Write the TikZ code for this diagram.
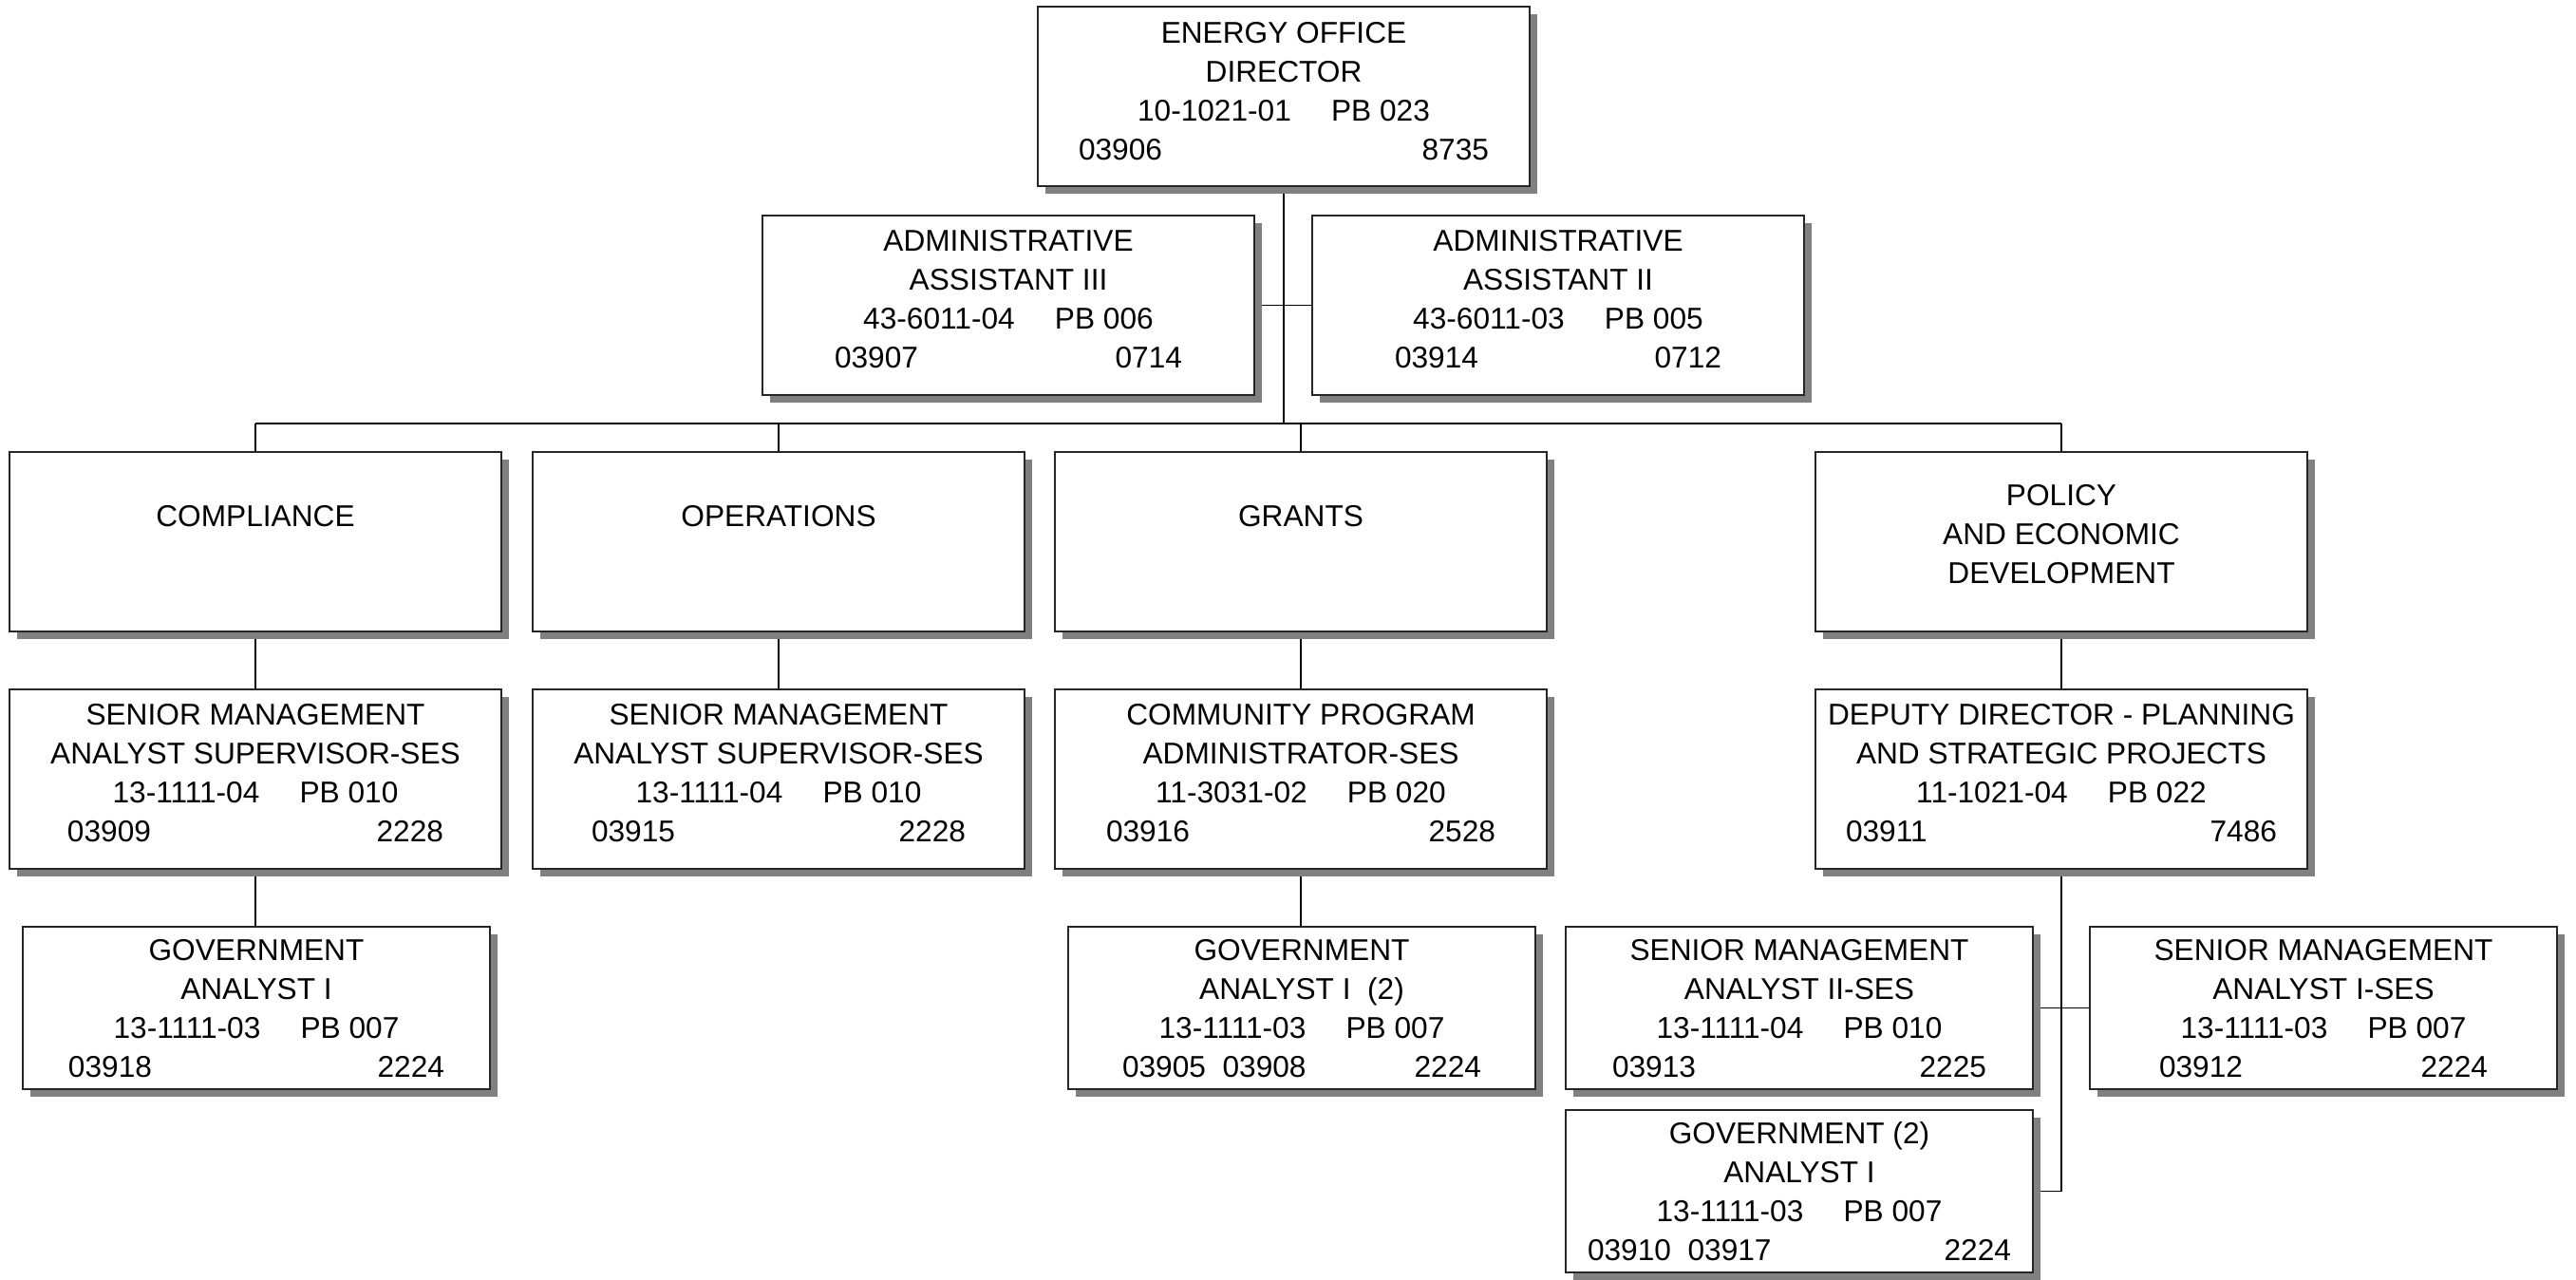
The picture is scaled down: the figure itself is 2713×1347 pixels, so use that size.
\documentclass[tikz,border=0pt]{standalone}
\usepackage{fontspec}
\setmainfont{Liberation Sans}
\usetikzlibrary{shadows,backgrounds}

% one drawing unit = one pixel of the chart
\newlength\pxu \setlength\pxu{0.01cm}
\newlength\cellw
% box body: width, height, first-baseline offset, lines
\newcommand{\cell}[4]{%
  \setlength\cellw{#1\pxu}%
  \parbox[c][#2\pxu][t]{\cellw}{\centering\rule{0pt}{#3\pxu}#4}}
% bottom line: position number on the left, rate on the right
\newcommand{\ids}[3]{\makebox[\dimexpr\cellw-#1\pxu*2\relax]{#2\hfill #3}}
\newcommand{\pbgap}{\hspace{12pt}}

\definecolor{shade}{RGB}{128,128,128}

\tikzset{
  orgbox/.style={draw=black!85, line width=0.45pt, fill=white,
    inner sep=0pt, outer sep=0pt, anchor=north west,
    font=\fontsize{9}{11.7}\selectfont,
    drop shadow={shadow xshift=0.08cm, shadow yshift=-0.08cm,
      fill=shade, opacity=1}},
  link/.style={draw=black, line width=0.4pt}
}

\begin{document}
\begin{tikzpicture}[x=0.01cm, y=-0.01cm]
\useasboundingbox (0,0) rectangle (2713,1347);

% director and assistants
\node[orgbox] (dir) at (1093,7) {\cell{518}{189}{38}{ENERGY OFFICE\\DIRECTOR\\10-1021-01\pbgap PB 023\\\ids{43}{03906}{8735}}};
\node[orgbox] (as3) at (803,227) {\cell{518}{189}{37}{ADMINISTRATIVE\\ASSISTANT III\\43-6011-04\pbgap PB 006\\\ids{76}{03907}{0714}}};
\node[orgbox] (as2) at (1382,227) {\cell{518}{189}{37}{ADMINISTRATIVE\\ASSISTANT II\\43-6011-03\pbgap PB 005\\\ids{87}{03914}{0712}}};

% sections
\node[orgbox] (comp) at (10,476) {\cell{518}{189}{78}{COMPLIANCE}};
\node[orgbox] (ops) at (561,476) {\cell{518}{189}{78}{OPERATIONS}};
\node[orgbox] (grants) at (1111,476) {\cell{518}{189}{78}{GRANTS}};
\node[orgbox] (pol) at (1912,476) {\cell{518}{189}{56}{POLICY\\AND ECONOMIC\\DEVELOPMENT}};

% section heads
\node[orgbox] (smacomp) at (10,726) {\cell{518}{189}{37}{SENIOR MANAGEMENT\\ANALYST SUPERVISOR-SES\\13-1111-04\pbgap PB 010\\\ids{61}{03909}{2228}}};
\node[orgbox] (smaops) at (561,726) {\cell{518}{189}{37}{SENIOR MANAGEMENT\\ANALYST SUPERVISOR-SES\\13-1111-04\pbgap PB 010\\\ids{62}{03915}{2228}}};
\node[orgbox] (cpa) at (1111,726) {\cell{518}{189}{37}{COMMUNITY PROGRAM\\ADMINISTRATOR-SES\\11-3031-02\pbgap PB 020\\\ids{54}{03916}{2528}}};
\node[orgbox] (dep) at (1912,726) {\cell{518}{189}{37}{DEPUTY DIRECTOR - PLANNING\\AND STRATEGIC PROJECTS\\11-1021-04\pbgap PB 022\\\ids{32}{03911}{7486}}};

% staff
\node[orgbox] (govcomp) at (24,976) {\cell{492}{171}{35}{GOVERNMENT\\ANALYST I\\13-1111-03\pbgap PB 007\\\ids{48}{03918}{2224}}};
\node[orgbox] (govgr) at (1125,976) {\cell{492}{171}{35}{GOVERNMENT\\ANALYST I\ \ (2)\\13-1111-03\pbgap PB 007\\\ids{57}{03905\ \ 03908}{2224}}};
\node[orgbox] (smaii) at (1649,976) {\cell{492}{171}{35}{SENIOR MANAGEMENT\\ANALYST II-SES\\13-1111-04\pbgap PB 010\\\ids{49}{03913}{2225}}};
\node[orgbox] (smai) at (2201,976) {\cell{492}{171}{35}{SENIOR MANAGEMENT\\ANALYST I-SES\\13-1111-03\pbgap PB 007\\\ids{73}{03912}{2224}}};
\node[orgbox] (govpol) at (1649,1169) {\cell{492}{171}{35}{GOVERNMENT (2)\\ANALYST I\\13-1111-03\pbgap PB 007\\\ids{23}{03910\ \ 03917}{2224}}};

\coordinate (bus) at (0,446);

\begin{scope}[on background layer]
  % director down to the section bus, with the assistants alongside
  \draw[link] (dir.south) -- (dir.south |- bus);
  \draw[link] (as3.east) -- (as2.west);
  \draw[link] (comp.north |- bus) -- (pol.north |- bus);
  \foreach \s in {comp,ops,grants,pol}
    \draw[link] (\s.north |- bus) -- (\s.north);
  % sections down to their heads and staff
  \draw[link] (comp.south) -- (smacomp.north);
  \draw[link] (smacomp.south) -- (smacomp.south |- govcomp.north);
  \draw[link] (ops.south) -- (smaops.north);
  \draw[link] (grants.south) -- (cpa.north);
  \draw[link] (cpa.south) -- (cpa.south |- govgr.north);
  \draw[link] (pol.south) -- (dep.north);
  \draw[link] (dep.south) -- (dep.south |- govpol.east) -- (govpol.east);
  \draw[link] (smaii.east) -- (smai.west);
\end{scope}
\end{tikzpicture}
\end{document}
